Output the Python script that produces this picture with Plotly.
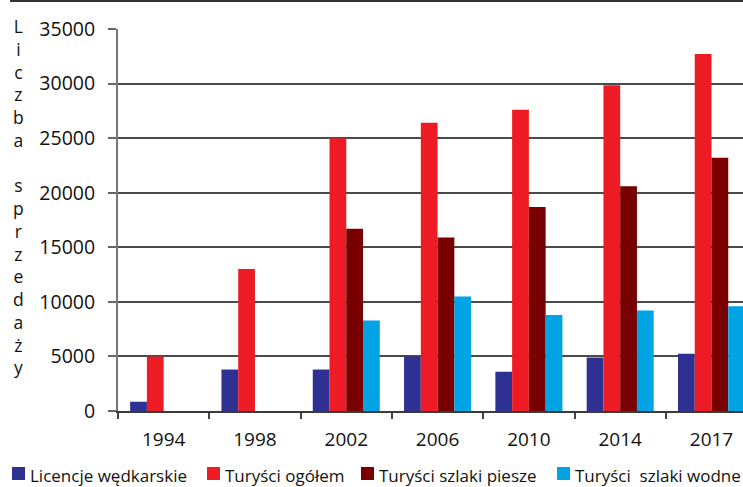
import plotly.graph_objects as go

# ---- data -------------------------------------------------------------
years = ["1994", "1998", "2002", "2006", "2010", "2014", "2017"]

licencje_wedkarskie = [850, 3800, 3800, 5000, 3600, 4900, 5250]
turysci_ogolem = [5000, 13000, 25000, 26400, 27600, 29850, 32700]
turysci_szlaki_piesze = [None, None, 16700, 15900, 18700, 20600, 23200]
turysci_szlaki_wodne = [None, None, 8300, 10500, 8800, 9200, 9600]

series_names = [
    "Licencje wędkarskie",
    "Turyści ogółem",
    "Turyści szlaki piesze",
    "Turyści\u00a0 szlaki wodne",
]
series_values = [
    licencje_wedkarskie,
    turysci_ogolem,
    turysci_szlaki_piesze,
    turysci_szlaki_wodne,
]
series_colors = ["#2E3192", "#ED1C24", "#780000", "#00A3E4"]

y_title = "Liczba sprzedaży"

# ---- page geometry (pixels) ------------------------------------------
W, H = 743, 487
M_L, M_R, M_T, M_B = 118, 0, 29, 76
PW, PH = W - M_L - M_R, H - M_T - M_B


def px_x(x):
    return (x - M_L) / PW


def px_y(y):
    return (H - M_B - y) / PH


FONT = "Open Sans"
TEXT = "#111111"

fig = go.Figure()
for name, vals, col in zip(series_names, series_values, series_colors):
    fig.add_trace(go.Bar(
        x=years, y=vals, name=name,
        marker=dict(color=col, line=dict(width=0)),
        showlegend=False,
    ))

fig.update_layout(
    width=W, height=H,
    margin=dict(l=M_L, r=M_R, t=M_T, b=M_B, pad=0),
    paper_bgcolor="white", plot_bgcolor="white",
    barmode="group", bargap=0.266, bargroupgap=0,
    font=dict(family=FONT, color=TEXT),
    xaxis=dict(
        type="category", range=[-0.5, 6.345],
        showline=True, linecolor="#3a3a3a", linewidth=2,
        ticks="outside", tickson="boundaries", ticklen=6,
        tickcolor="#444", tickwidth=1.5,
        tickfont=dict(size=19, color=TEXT, family=FONT),
        ticklabelstandoff=10,
        showgrid=False, zeroline=False,
    ),
    yaxis=dict(
        range=[0, 35000], dtick=5000, tickformat="d",
        showline=True, linecolor="#777", linewidth=2,
        ticks="outside", ticklen=8, tickcolor="#666", tickwidth=1.5,
        tickfont=dict(size=19.5, color=TEXT, family=FONT),
        ticklabelstandoff=9,
        showgrid=True, gridcolor="#4a4a4a", gridwidth=1.6,
        zeroline=False,
    ),
)

# vertical, letter-by-letter axis title
letters = "<br>".join(ch if ch != " " else "" for ch in y_title)
fig.add_annotation(
    text=letters, xref="paper", yref="paper",
    x=px_x(19), y=px_y(196), xanchor="center", yanchor="middle",
    showarrow=False, align="center",
    font=dict(size=17.5, color=TEXT, family=FONT),
)

# rule across the top of the frame
fig.add_shape(
    type="line", xref="paper", yref="paper",
    x0=px_x(10), x1=1.0, y0=px_y(1), y1=px_y(1),
    line=dict(color="#333", width=2),
)

# legend row along the bottom
swatch_left = [12, 207, 361, 557]
label_left = [30, 225, 379, 575]
for name, col, sx, lx in zip(series_names, series_colors, swatch_left, label_left):
    fig.add_shape(
        type="rect", xref="paper", yref="paper",
        x0=px_x(sx), x1=px_x(sx + 13), y0=px_y(480), y1=px_y(467),
        fillcolor=col, line=dict(width=0),
    )
    fig.add_annotation(
        text=name, xref="paper", yref="paper",
        x=px_x(lx - 2), y=px_y(475), xanchor="left", yanchor="middle",
        showarrow=False, font=dict(size=17, color=TEXT, family=FONT),
    )

fig.write_html("out.html")
